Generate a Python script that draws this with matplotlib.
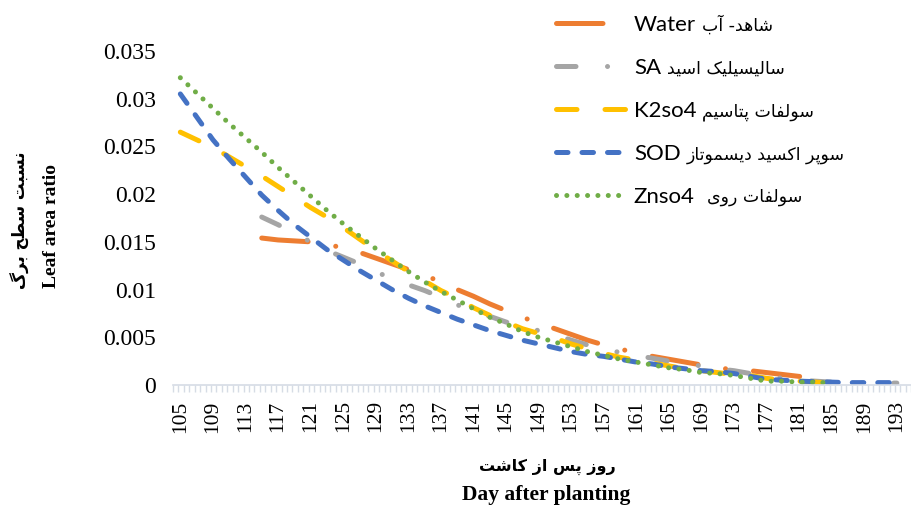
import numpy as np
import matplotlib.pyplot as plt

# days after planting (read every 2 days off the chart)
days = np.arange(105, 195, 2)
nan = np.nan

water = [nan, nan, nan, nan, nan, 0.0154, 0.0152, 0.0151, 0.0150, 0.0147,
         0.0144, 0.0139, 0.0133, 0.0127, 0.0121, 0.0115, 0.0108, 0.0100, 0.0093, 0.0085,
         0.0078, 0.0071, 0.0065, 0.0059, 0.0053, 0.0047, 0.0042, 0.0038, 0.0033, 0.0030,
         0.0027, 0.0024, 0.0021, 0.0018, 0.0016, 0.0015, 0.0013, 0.0011, 0.0009, 0.0008,
         nan, nan, nan, nan, nan]
sa = [nan, nan, nan, nan, nan, 0.0176, 0.0168, 0.0159, 0.0150, 0.0141,
      0.0134, 0.0127, 0.0119, 0.0111, 0.0105, 0.0099, 0.0092, 0.0084, 0.0078, 0.0072,
      0.0066, 0.0061, 0.0057, 0.0053, 0.0047, 0.0042, 0.0038, 0.0034, 0.0031, 0.0028,
      0.0025, 0.0022, 0.0020, 0.0017, 0.0015, 0.0012, 0.0009, 0.0007, 0.0005, 0.0004,
      0.0003, 0.0003, 0.0002, 0.0002, 0.0002]
k2so4 = [0.0265, 0.0257, 0.0249, 0.0239, 0.0229, 0.0219, 0.0208, 0.0197, 0.0186, 0.0176,
         0.0165, 0.0153, 0.0141, 0.0130, 0.0119, 0.0109, 0.0099, 0.0091, 0.0081, 0.0073,
         0.0066, 0.0059, 0.0054, 0.0049, 0.0043, 0.0038, 0.0033, 0.0029, 0.0026, 0.0023,
         0.0020, 0.0017, 0.0015, 0.0013, 0.0011, 0.0010, 0.0007, 0.0005, 0.0004, 0.0003,
         0.0002, nan, nan, nan, nan]
sod = [0.0305, 0.0281, 0.0257, 0.0237, 0.0218, 0.0199, 0.0183, 0.0168, 0.0155, 0.0142,
       0.0131, 0.0120, 0.0110, 0.0100, 0.0091, 0.0083, 0.0076, 0.0069, 0.0063, 0.0057,
       0.0052, 0.0047, 0.0043, 0.0039, 0.0035, 0.0032, 0.0030, 0.0027, 0.0024, 0.0022,
       0.0019, 0.0017, 0.0015, 0.0014, 0.0012, 0.0009, 0.0006, 0.0005, 0.0004, 0.00035,
       0.0003, 0.00025, 0.00025, 0.00025, 0.00025]
znso4 = [0.0322, 0.0306, 0.0290, 0.0274, 0.0259, 0.0244, 0.0228, 0.0213, 0.0198, 0.0183,
         0.0169, 0.0156, 0.0143, 0.0131, 0.0119, 0.0108, 0.0098, 0.0089, 0.0080, 0.0071,
         0.0064, 0.0056, 0.0050, 0.0045, 0.0040, 0.0035, 0.0031, 0.0027, 0.0024, 0.0021,
         0.0018, 0.0016, 0.0013, 0.0012, 0.0010, 0.0007, 0.0004, 0.0004, 0.0003, 0.0003,
         0.0002, nan, nan, nan, nan]

labels_fa = ['شاهد- آب', 'سالیسیلیک اسید', 'سولفات پتاسیم', 'سوپر اکسید دیسموتاز', 'سولفات روی']
labels_en = ['Water', 'SA', 'K2so4', 'SOD', 'Znso4']
ylabel_fa = 'نسبت سطح برگ'
ylabel_en = 'Leaf area ratio'
xlabel_fa = 'روز پس از کاشت'
xlabel_en = 'Day after planting'

yticks = [0, 0.005, 0.01, 0.015, 0.02, 0.025, 0.03, 0.035]
ytick_labels = ['0', '0.005', '0.01', '0.015', '0.02', '0.025', '0.03', '0.035']
xticks = np.arange(105, 194, 4)

# presentation forms: isolated, final, initial, medial
FORMS = {
    'ا': ('\uFE8D', '\uFE8E'), 'آ': ('\uFE81', '\uFE82'),
    'د': ('\uFEA9', '\uFEAA'), 'ر': ('\uFEAD', '\uFEAE'),
    'ز': ('\uFEAF', '\uFEB0'), 'و': ('\uFEED', '\uFEEE'),
    'ب': ('\uFE8F', '\uFE90', '\uFE91', '\uFE92'),
    'پ': ('\uFB56', '\uFB57', '\uFB58', '\uFB59'),
    'ت': ('\uFE95', '\uFE96', '\uFE97', '\uFE98'),
    'ح': ('\uFEA1', '\uFEA2', '\uFEA3', '\uFEA4'),
    'س': ('\uFEB1', '\uFEB2', '\uFEB3', '\uFEB4'),
    'ش': ('\uFEB5', '\uFEB6', '\uFEB7', '\uFEB8'),
    'ط': ('\uFEC1', '\uFEC2', '\uFEC3', '\uFEC4'),
    'ف': ('\uFED1', '\uFED2', '\uFED3', '\uFED4'),
    'ک': ('\uFB8E', '\uFB8F', '\uFB90', '\uFB91'),
    'گ': ('\uFB92', '\uFB93', '\uFB94', '\uFB95'),
    'ل': ('\uFEDD', '\uFEDE', '\uFEDF', '\uFEE0'),
    'م': ('\uFEE1', '\uFEE2', '\uFEE3', '\uFEE4'),
    'ن': ('\uFEE5', '\uFEE6', '\uFEE7', '\uFEE8'),
    'ه': ('\uFEE9', '\uFEEA', '\uFEEB', '\uFEEC'),
    'ی': ('\uFBFC', '\uFBFD', '\uFBFE', '\uFBFF'),
}


def fa(text):
    # join letters and put them in visual (left to right) order
    out = []
    for i, ch in enumerate(text):
        if ch not in FORMS:
            out.append(ch)
            continue
        prev = text[i - 1] if i > 0 else ''
        nxt = text[i + 1] if i + 1 < len(text) else ''
        jp = prev in FORMS and len(FORMS[prev]) == 4
        jn = len(FORMS[ch]) == 4 and nxt in FORMS
        f = FORMS[ch]
        if jp and jn:
            out.append(f[3])
        elif jp:
            out.append(f[1])
        elif jn:
            out.append(f[2])
        else:
            out.append(f[0])
    return ''.join(out[::-1])


colors = ['#ED7D31', '#A5A5A5', '#FFC000', '#4472C4', '#70AD47']
styles = [(0, (9.3, 5.6, 0.01, 5.6)),
          (0, (3.9, 6.3, 0.01, 6.3)),
          (0, (4.1, 5.6)),
          (0, (2.3, 2.8)),
          (0, (0.01, 2.06))]
series = [water, sa, k2so4, sod, znso4]

W, H = 912, 505
fig = plt.figure(figsize=(W / 100, H / 100), dpi=100)
ax = fig.add_axes([173 / W, 120 / H, 1 - 173 / W, 334 / H])

for vals, c, ls, en in zip(series, colors, styles, labels_en):
    ax.plot(days, vals, color=c, lw=3.6, linestyle=ls,
            dash_capstyle='round', solid_capstyle='round', label=en)

ax.set_xlim(104.1, 194.86)
ax.set_ylim(0, 0.035)
ax.set_yticks(yticks)
ax.set_yticklabels(ytick_labels, family='Liberation Serif', fontsize=17)
ax.set_xticks(xticks)
ax.set_xticklabels([str(d) for d in xticks], rotation=90,
                   family='Liberation Serif', fontsize=15.5)
ax.set_xticks(np.arange(104.1, 194.9, 2 / 3), minor=True)
ax.tick_params(axis='y', length=0, pad=12)
ax.tick_params(axis='x', which='major', length=0, pad=11)
ax.tick_params(axis='x', which='minor', length=5, color='#D6DCE5', width=1)
for s in ['top', 'right', 'left']:
    ax.spines[s].set_visible(False)
ax.spines['bottom'].set_color('#D6DCE5')
ax.spines['bottom'].set_linewidth(1.2)

fig.text(547 / W, 1 - 467 / H, fa(xlabel_fa), ha='center', va='center',
         family='DejaVu Sans', fontweight='bold', fontsize=11.5)
fig.text(546 / W, 1 - 495 / H, xlabel_en, ha='center', va='center',
         family='Liberation Serif', fontweight='bold', fontsize=15.5)
fig.text(20 / W, 1 - 220 / H, fa(ylabel_fa), ha='center', va='center',
         rotation=90, family='DejaVu Sans', fontweight='bold', fontsize=12)
fig.text(52 / W, 1 - 226 / H, ylabel_en, ha='center', va='center',
         rotation=90, family='Liberation Serif', fontweight='bold', fontsize=14)

leg = ax.legend(loc='upper left', bbox_to_anchor=(545 / W, 1 - 4 / H),
                bbox_transform=fig.transFigure, frameon=False, borderpad=0,
                handlelength=3.2, handletextpad=0.3, labelspacing=1.03,
                prop={'family': 'Lato', 'size': 16})

# Persian part of each legend entry, placed right after the Latin name
fig.canvas.draw()
renderer = fig.canvas.get_renderer()
for t, txt, en in zip(leg.get_texts(), labels_fa, labels_en):
    bb = t.get_window_extent(renderer)
    gap = 12 if en == 'Znso4' else 6
    fig.text((bb.x1 + gap) / W, (bb.y0 + 4.5) / H, fa(txt), ha='left',
             va='baseline', family='DejaVu Sans', fontsize=12.5)

fig.savefig('out.png', dpi=100)
